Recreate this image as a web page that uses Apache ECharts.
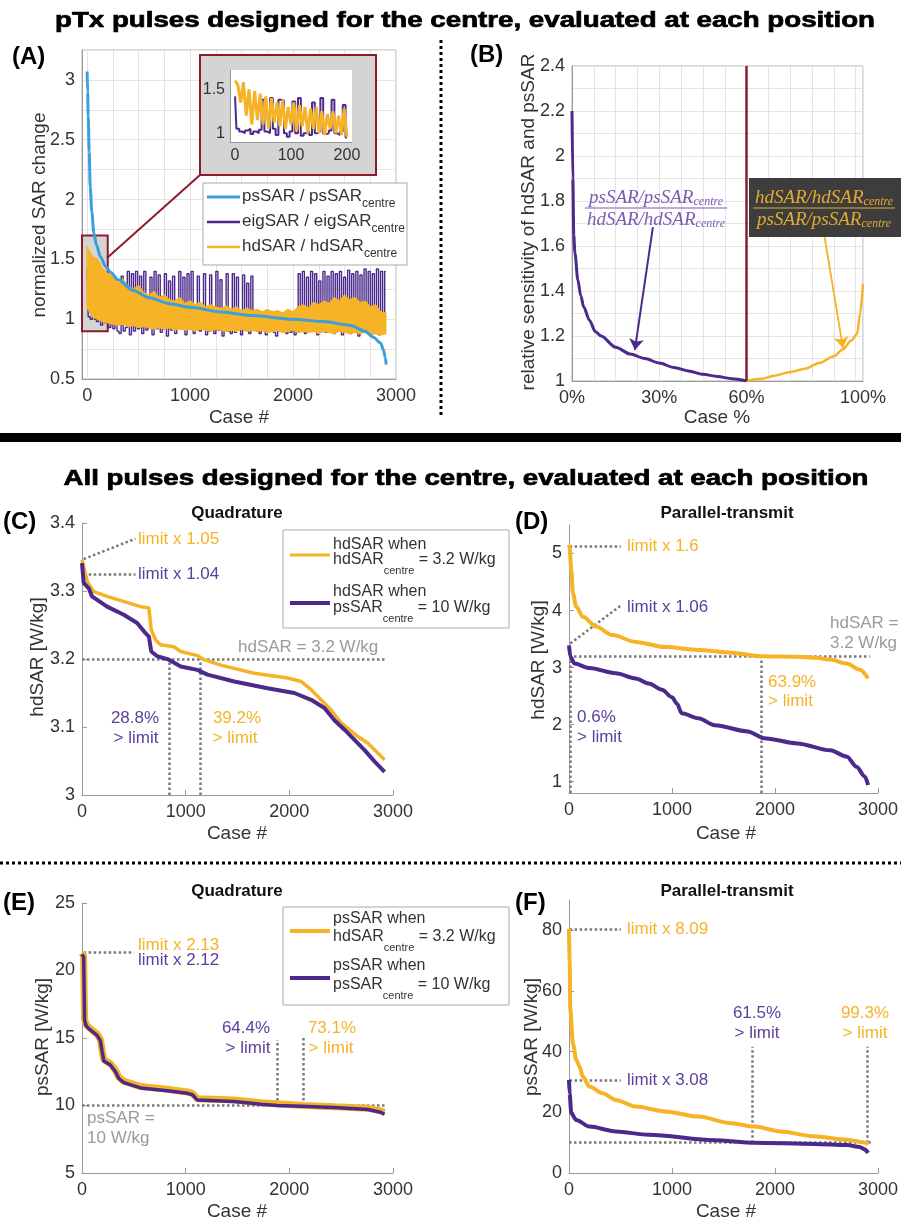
<!DOCTYPE html>
<html><head><meta charset="utf-8">
<script src="https://cdn.jsdelivr.net/npm/echarts@6/dist/echarts.min.js"></script>
<style>html,body{margin:0;padding:0;background:#fff}#c{width:901px;height:1223px}</style>
</head><body><div id="c"></div>
<script>
// ---------------- DATA ----------------
// Panel A: normalized SAR change vs case #
const aPsCase = [0,5,10,20,30,45,65,90,130,180,230,300,450,600,800,1000,1300,1600,2000,2300,2550,2700,2780,2850,2880,2895,2905];
const aPsSAR  = [3.07,2.9,2.7,2.4,2.1,1.9,1.72,1.62,1.52,1.44,1.39,1.33,1.24,1.18,1.13,1.1,1.06,1.03,1.0,0.98,0.95,0.9,0.85,0.8,0.74,0.68,0.62];
const aEigCase0 = 0, aEigStep = 20;
const aEigSAR = [
1.42,1.02,1.0,1.38,1.0,0.98,
1.4,0.95,1.38,0.97,1.32,0.93,1.35,0.92,1.3,0.9,
0.88,1.36,0.9,0.93,1.4,0.87,1.38,0.9,1.4,0.92,
1.36,0.88,1.4,0.91,0.93,1.35,0.87,1.4,0.92,1.37,
0.89,0.92,1.38,0.86,1.32,0.91,1.36,0.88,0.93,1.4,
0.92,1.35,0.87,1.38,0.92,1.4,0.88,0.93,1.36,0.9,
0.92,1.38,0.87,0.9,1.37,0.92,0.88,1.4,0.91,1.33,
0.86,0.92,1.38,0.9,0.88,1.38,0.89,1.35,0.92,0.87,
1.37,0.91,1.3,0.88,1.36,0.91,0.9,
0.92,0.88,0.93,0.91,0.87,0.92,0.9,0.93,0.89,0.86,0.92,0.9,0.91,0.93,0.88,0.92,0.89,0.91,0.87,0.92,
1.38,0.9,1.4,0.88,1.35,0.9,1.4,0.92,1.38,0.87,
1.32,0.91,1.4,0.89,1.36,0.92,1.4,0.88,1.38,0.91,
1.4,0.87,1.35,0.92,1.41,0.88,1.38,0.91,1.4,0.86,
1.37,0.9,1.42,0.91,1.4,0.88,1.38,0.92,1.42,0.87,
1.4,0.91,1.4];
const aBandCase = [0,50,100,150,200,250,300,350,400,450,500,550,600,650,700,750,800,850,900,950,1000,1050,1100,1150,1200,1250,1300,1350,1400,1450,1500,1550,1600,1650,1700,1750,1800,1850,1900,1950,2000,2050,2100,2150,2200,2250,2300,2350,2400,2450,2500,2550,2600,2650,2700,2750,2800,2850,2900];
const aHdHi = [1.6,1.52,1.5,1.42,1.38,1.36,1.3,1.33,1.27,1.25,1.28,1.22,1.2,1.23,1.18,1.2,1.16,1.15,1.18,1.13,1.15,1.12,1.14,1.1,1.12,1.1,1.09,1.11,1.08,1.1,1.07,1.09,1.07,1.08,1.06,1.08,1.06,1.07,1.05,1.08,1.06,1.1,1.12,1.09,1.14,1.12,1.15,1.13,1.18,1.15,1.2,1.16,1.18,1.14,1.15,1.1,1.12,1.06,1.05];
const aHdLo = [1.1,1.02,1.0,0.98,0.97,0.96,0.95,0.96,0.94,0.95,0.93,0.94,0.93,0.92,0.93,0.92,0.93,0.91,0.92,0.91,0.92,0.9,0.92,0.91,0.9,0.92,0.91,0.9,0.91,0.9,0.92,0.9,0.91,0.9,0.91,0.89,0.9,0.91,0.89,0.9,0.91,0.89,0.9,0.89,0.9,0.88,0.9,0.89,0.88,0.9,0.89,0.88,0.89,0.88,0.89,0.87,0.88,0.87,0.88];
// Panel A inset (cases 0..200, step 5)
const aInsetStep = 5;
const aInsetEig = [1.42,1.05,1.02,1.0,1.03,1.05,0.99,1.02,1.0,1.04,1.38,1.02,1.0,1.4,1.05,0.98,1.38,1.37,1.0,0.96,1.02,1.36,1.0,1.4,0.97,1.0,1.02,0.98,1.35,1.0,1.02,1.4,0.99,1.0,1.03,1.38,1.0,0.98,1.02,1.32,0.95];
const aInsetHd  = [1.6,1.55,1.35,1.58,1.2,1.5,1.1,1.48,1.15,1.45,1.1,1.42,1.05,1.4,1.12,1.35,1.08,1.38,1.05,1.3,1.1,1.35,1.02,1.32,1.08,1.3,1.0,1.28,1.05,1.3,1.0,1.25,0.98,1.22,1.05,1.25,1.0,1.2,0.98,1.28,0.96];
// Panel B: relative sensitivity vs case %
const bPctLeft  = [0,0.3,0.6,1,2,3,4,6,8,10,15,20,25,30,35,40,45,50,55,60];
const bPsOverHd = [2.2,1.9,1.65,1.57,1.45,1.38,1.33,1.27,1.22,1.2,1.15,1.12,1.1,1.08,1.06,1.045,1.03,1.02,1.01,1.0];
const bPctRight = [60,65,70,75,80,85,90,93,96,98,99,100];
const bHdOverPs = [1.0,1.01,1.025,1.04,1.055,1.08,1.11,1.14,1.18,1.21,1.3,1.43];
// Panel C: Quadrature hdSAR
const cHdWhenHd = [[0,3.346],[16,3.346],[55,3.312],[113,3.299],[242,3.292],[565,3.277],[645,3.275],[668,3.243],[710,3.228],[758,3.221],[887,3.218],[952,3.211],[1113,3.205],[1177,3.199],[1339,3.191],[1661,3.179],[1984,3.172],[2113,3.167],[2210,3.155],[2306,3.14],[2403,3.125],[2500,3.106],[2661,3.086],[2758,3.076],[2919,3.052]];
const cHdWhenPs = [[0,3.341],[10,3.341],[16,3.312],[65,3.304],[97,3.292],[242,3.277],[403,3.265],[532,3.253],[613,3.238],[645,3.233],[668,3.211],[726,3.204],[839,3.199],[952,3.189],[1113,3.184],[1210,3.177],[1468,3.167],[1790,3.157],[2048,3.15],[2210,3.14],[2339,3.128],[2435,3.11],[2532,3.096],[2629,3.081],[2726,3.066],[2823,3.049],[2919,3.034]];
// Panel D: Parallel-transmit hdSAR
const dHdWhenHd = [[0,5.15],[6,5.1],[22,4.71],[38,4.3],[70,4.07],[134,3.89],[262,3.72],[423,3.57],[647,3.45],[935,3.36],[1255,3.31],[1575,3.26],[1866,3.2],[2215,3.19],[2400,3.17],[2536,3.14],[2696,3.07],[2824,2.96],[2904,2.81]];
const dHdWhenPs = [[0,3.39],[13,3.19],[54,3.07],[198,2.99],[455,2.9],[647,2.81],[775,2.72],[903,2.61],[1000,2.48],[1047,2.37],[1095,2.2],[1255,2.11],[1415,1.99],[1735,1.88],[1895,1.76],[2215,1.67],[2536,1.55],[2696,1.44],[2792,1.26],[2872,1.09],[2904,0.94]];
// Panel E: Quadrature psSAR
const ePsWhenHd = [[0,21.3],[16,21.1],[25,16.4],[40,16.0],[65,15.8],[145,15.3],[177,14.9],[194,14.1],[210,13.4],[274,13.1],[323,12.6],[355,12.1],[403,11.8],[565,11.4],[823,11.2],[1016,11.0],[1065,10.9],[1113,10.5],[1468,10.4],[1726,10.2],[2139,10.0],[2435,9.9],[2758,9.8],[2880,9.6],[2919,9.5]];
const ePsWhenPs = [[0,21.2],[16,21.0],[25,16.3],[40,15.9],[65,15.7],[145,15.2],[177,14.8],[194,14.0],[210,13.3],[274,13.0],[323,12.5],[355,12.0],[403,11.7],[565,11.3],[823,11.1],[1016,10.9],[1065,10.8],[1113,10.4],[1468,10.3],[1726,10.1],[1887,10.0],[2113,9.95],[2435,9.85],[2758,9.7],[2880,9.5],[2919,9.35]];
// Panel F: Parallel-transmit psSAR
const fPsWhenHd = [[0,80.5],[6,70],[13,53.7],[38,42.7],[70,37.3],[102,35.1],[134,31.8],[198,28.5],[326,26.3],[455,24.1],[647,21.9],[935,20.3],[1255,18.6],[1575,16.4],[1800,15.3],[2056,13.7],[2376,12.1],[2696,11.0],[2888,10.0],[2904,9.3]];
const fPsWhenPs = [[0,30.7],[6,26.3],[22,19.7],[70,17.5],[198,15.3],[455,13.7],[775,12.6],[1415,10.8],[1796,10.0],[2376,9.6],[2696,9.2],[2824,8.6],[2870,7.8],[2904,6.6]];
// Tick labels / grid positions
const aTickX = [0,1000,2000,3000];
const aGridX = [0,250,500,750,1000,1250,1500,1750,2000,2250,2500,2750,3000];
const aTickY = [0.5,1,1.5,2,2.5,3];
const aGridY = [0.5,0.75,1,1.25,1.5,1.75,2,2.25,2.5,2.75,3,3.25];
const insetTickX = [0,100,200];
const insetTickY = [1,1.5];
const bTickX = [0,30,60,100];
const bGridX = [0,7.5,15,22.5,30,37.5,45,52.5,60,67.5,75,82.5,90,97.5,100];
const bTickY = [1,1.2,1.4,1.6,1.8,2,2.2,2.4];
const bGridY = [1,1.1,1.2,1.3,1.4,1.5,1.6,1.7,1.8,1.9,2,2.1,2.2,2.3,2.4];
const dTickY = [1,2,3,4,5];
const fTickY = [0,20,40,60,80];

// ---------------- STYLE ----------------
const FF = "Liberation Sans";
const F = "'Liberation Sans', Arial, sans-serif";
const SERIFF = "Liberation Serif";
const YEL = '#F5B325', PUR = '#4B2A8C', PURT = '#5E409E', BLU = '#3A9FDD', RED = '#8C1C2C';
const GRY = '#7a7a7a', GTXT = '#9a9a9a', TXT = '#333333';
const zip = (a, b) => a.map((x, i) => [x, b[i]]);
const plain = v => String(v);

const chart = echarts.init(document.getElementById('c'), null, {renderer: 'canvas', width: 901, height: 1223});

const tickLbl = {color: TXT, fontSize: 18, fontFamily: F, formatter: plain};
const grids = [
  {left: 82, top: 50, width: 314, height: 329, show: true, borderColor: '#b0b0b0', borderWidth: 1},
  {left: 230, top: 70, width: 122, height: 72, show: true, backgroundColor: '#fff', borderWidth: 0, z: 60},
  {left: 572, top: 66, width: 291, height: 315, show: true, borderColor: '#b0b0b0', borderWidth: 1},
  {left: 82, top: 523, width: 311, height: 272},
  {left: 569, top: 525, width: 313, height: 268},
  {left: 82, top: 903, width: 311, height: 270},
  {left: 569, top: 900, width: 313, height: 273}
];
const lineAx = {show: true, onZero: false, lineStyle: {color: '#9a9a9a', width: 1}};
const inTick = {show: true, inside: true, length: 5, lineStyle: {color: '#9a9a9a'}};
const caseX = gi => ({gridIndex: gi, type: 'value', min: 0, max: 3000, interval: 1000, axisLine: lineAx, axisTick: inTick, axisLabel: Object.assign({margin: 8}, tickLbl), splitLine: {show: false}});
const xAxes = [
  {gridIndex: 0, type: 'value', min: -50, max: 3000, axisLine: lineAx, axisTick: {show: false, customValues: aGridX}, axisLabel: Object.assign({}, tickLbl, {customValues: aTickX, margin: 8}), splitLine: {show: true, lineStyle: {color: '#e4e4e4'}}},
  {gridIndex: 1, type: 'value', min: -9, max: 209, z: 61, axisLine: lineAx, axisTick: {show: false}, axisLabel: {customValues: insetTickX, color: TXT, fontSize: 16, fontFamily: F, margin: 6}, splitLine: {show: false}},
  {gridIndex: 2, type: 'value', min: 0, max: 100, axisLine: lineAx, axisTick: {show: false, customValues: bGridX}, axisLabel: Object.assign({}, tickLbl, {customValues: bTickX, formatter: '{value}%', margin: 8}), splitLine: {show: true, lineStyle: {color: '#e4e4e4'}}},
  caseX(3), caseX(4), caseX(5), caseX(6)
];
const yAxes = [
  {gridIndex: 0, type: 'value', min: 0.5, max: 3.25, axisLine: lineAx, axisTick: {show: false, customValues: aGridY}, axisLabel: Object.assign({}, tickLbl, {customValues: aTickY, margin: 7}), splitLine: {show: true, lineStyle: {color: '#e4e4e4'}}},
  {gridIndex: 1, type: 'value', min: 0.9, max: 1.72, z: 61, axisLine: lineAx, axisTick: {show: false}, axisLabel: {customValues: insetTickY, color: TXT, fontSize: 16, fontFamily: F, margin: 5}, splitLine: {show: false}},
  {gridIndex: 2, type: 'value', min: 1, max: 2.4, axisLine: lineAx, axisTick: {show: false, customValues: bGridY}, axisLabel: Object.assign({}, tickLbl, {customValues: bTickY, margin: 7}), splitLine: {show: true, lineStyle: {color: '#e4e4e4'}}},
  {gridIndex: 3, type: 'value', min: 3, max: 3.4, interval: 0.1, axisLine: lineAx, axisTick: inTick, axisLabel: Object.assign({}, tickLbl, {margin: 7}), splitLine: {show: false}},
  {gridIndex: 4, type: 'value', min: 0.8, max: 5.5, axisLine: lineAx, axisTick: Object.assign({customValues: dTickY}, inTick), axisLabel: Object.assign({}, tickLbl, {customValues: dTickY, margin: 7}), splitLine: {show: false}},
  {gridIndex: 5, type: 'value', min: 5, max: 25, interval: 5, axisLine: lineAx, axisTick: inTick, axisLabel: Object.assign({}, tickLbl, {margin: 7}), splitLine: {show: false}},
  {gridIndex: 6, type: 'value', min: 0, max: 90, axisLine: lineAx, axisTick: Object.assign({customValues: fTickY}, inTick), axisLabel: Object.assign({}, tickLbl, {customValues: fTickY, margin: 7}), splitLine: {show: false}}
];

const dotted = {type: 'dotted', color: GRY, width: 2.5};
const mlDots = (data) => ({silent: true, symbol: 'none', z: 1, animation: false, label: {show: false}, lineStyle: dotted, emphasis: {disabled: true}, data: data.map(p => [{coord: p[0]}, {coord: p[1]}])});
const ln = (xi, data, color, width, z, extra) => Object.assign({type: 'line', xAxisIndex: xi, yAxisIndex: xi, data, showSymbol: false, symbol: 'none', z: z || 2, lineStyle: {color, width}, itemStyle: {color}, silent: true, animation: false}, extra || {});

// hdSAR band in panel A: polygon between low and high envelopes, through axis coords
const bandSeries = {
  type: 'custom', xAxisIndex: 0, yAxisIndex: 0, z: 4, silent: true, animation: false,
  data: aBandCase.map((x, i) => [x, aHdLo[i], aHdHi[i]]),
  encode: {x: 0, y: [1, 2]},
  renderItem: (params, api) => {
    if (params.dataIndex !== 0) return null;
    const pts = [];
    for (let i = 0; i < aBandCase.length; i++) pts.push(api.coord([aBandCase[i], aHdHi[i]]));
    for (let i = aBandCase.length - 1; i >= 0; i--) pts.push(api.coord([aBandCase[i], aHdLo[i]]));
    return {type: 'polygon', shape: {points: pts}, style: {fill: YEL, stroke: YEL, lineWidth: 1.5}};
  }
};

const series = [
  // A main
  ln(0, aEigSAR.map((v, i) => [aEigCase0 + i * aEigStep, v]), PUR, 1.4, 2, {step: 'middle',
    markArea: {silent: true, itemStyle: {color: '#d4d4d4', borderColor: RED, borderWidth: 2}, data: [[{coord: [-50, 1.7]}, {coord: [200, 0.9]}]]}
  }),
  bandSeries,
  ln(0, zip(aPsCase, aPsSAR), BLU, 3, 6, {smooth: 0.3, smoothMonotone: 'x'}),
  // A inset
  ln(1, aInsetEig.map((v, i) => [i * aInsetStep, v]), PUR, 2, 62, {step: 'middle'}),
  ln(1, aInsetHd.map((v, i) => [i * aInsetStep, v]), YEL, 3, 63),
  // B
  ln(2, zip(bPctLeft, bPsOverHd), PUR, 3, 3, {smooth: 0.3, smoothMonotone: 'x',
    markLine: {silent: true, animation: false, label: {show: false}, emphasis: {disabled: true}, symbol: ['none', 'arrow'], symbolSize: 11,
      data: [
        [{coord: [60, 1], symbol: 'none', lineStyle: {color: RED, width: 2.5, type: 'solid'}}, {coord: [60, 2.4], symbol: 'none'}],
        [{coord: [27.8, 1.684], symbol: 'none', lineStyle: {color: PUR, width: 2, type: 'solid'}}, {coord: [21.6, 1.138], symbol: 'arrow'}]
      ]}}),
  ln(2, zip(bPctRight, bHdOverPs), YEL, 2.5, 3, {smooth: 0.3, smoothMonotone: 'x',
    markLine: {silent: true, animation: false, label: {show: false}, emphasis: {disabled: true}, symbol: ['none', 'arrow'], symbolSize: 11,
      data: [[{coord: [86.3, 1.68], symbol: 'none', lineStyle: {color: YEL, width: 1.8, type: 'solid'}}, {coord: [93.1, 1.147], symbol: 'arrow'}]]}}),
  // C
  ln(3, cHdWhenHd, YEL, 3.5, 2, {markLine: mlDots([
    [[0, 3.2], [2935, 3.2]], [[840, 3.0], [840, 3.2]], [[1145, 3.0], [1145, 3.2]],
    [[16, 3.347], [516, 3.377]], [[65, 3.325], [516, 3.325]]])}),
  ln(3, cHdWhenPs, PUR, 4, 3),
  // D
  ln(4, dHdWhenHd, YEL, 4, 2, {smooth: 0.3, smoothMonotone: 'x', markLine: mlDots([
    [[0, 3.2], [2920, 3.2]], [[13, 0.8], [13, 3.2]], [[1863, 0.8], [1863, 3.2]],
    [[6, 5.13], [503, 5.13]], [[13, 3.42], [503, 4.09]]])}),
  ln(4, dHdWhenPs, PUR, 4, 3, {smooth: 0.3, smoothMonotone: 'x'}),
  // E
  ln(5, ePsWhenHd, YEL, 7, 2, {markLine: mlDots([
    [[0, 10], [2935, 10]], [[1887, 10], [1887, 14.85]], [[2139, 10], [2139, 15.1]],
    [[16, 21.38], [500, 21.38]]])}),
  ln(5, ePsWhenPs, PUR, 3.5, 3),
  // F
  ln(6, fPsWhenHd, YEL, 4, 2, {smooth: 0.3, smoothMonotone: 'x', markLine: mlDots([
    [[0, 10], [2930, 10]], [[1783, 10], [1783, 41.6]], [[2894, 10], [2894, 41.6]],
    [[6, 80.3], [503, 80.3]], [[6, 30.7], [503, 30.7]]])}),
  ln(6, fPsWhenPs, PUR, 4, 3, {smooth: 0.3, smoothMonotone: 'x'})
];

// ---------------- GRAPHICS ----------------
function T(x, y, text, o) {
  o = o || {};
  const st = {text, fill: o.fill || TXT, fontSize: o.fs || 17, fontFamily: o.ff || F, fontWeight: o.fw || 'normal', fontStyle: o.fst || 'normal', align: o.align || 'left', verticalAlign: 'middle'};
  if (o.stroke) { st.stroke = o.stroke; st.lineWidth = o.lw || 0.6; }
  return {type: 'text', x, y, z: o.z || 100, rotation: o.rot || 0, scaleX: o.sx || 1, silent: true, style: st};
}
const mctx = document.createElement('canvas').getContext('2d');
function measure(text, font) { mctx.font = font; return mctx.measureText(text).width; }
// text row with subscripts: parts = [[text, isSub], ...]
function subRow(x, y, parts, o) {
  const fam = o.fam || FF, fst = o.fst || 'normal';
  const fontOf = sub => `${fst} normal ${sub ? o.sfs : o.fs}px '${fam}'`;
  const widths = parts.map(p => measure(p[0], fontOf(p[1])));
  const total = widths.reduce((a, b) => a + b, 0);
  let cx = o.center ? x - total / 2 : x;
  const out = [];
  parts.forEach((p, i) => {
    out.push(T(cx, p[1] ? y + o.dy : y, p[0], {fs: p[1] ? o.sfs : o.fs, fill: o.fill, ff: `'${fam}'`, fst, z: o.z || 101}));
    cx += widths[i];
  });
  return out;
}
const title1 = 'pTx pulses designed for the centre, evaluated at each position';
const title2 = 'All pulses designed for the centre, evaluated at each position';
const tFont = "normal bold 22px 'Liberation Sans'";
const s1 = 820 / measure(title1, tFont), s2 = 805 / measure(title2, tFont);

const gfx = [
  T(465, 21, title1, {fw: 'bold', fs: 22, fill: '#000', align: 'center', sx: s1, stroke: '#000', lw: 0.7}),
  T(466, 479, title2, {fw: 'bold', fs: 22, fill: '#000', align: 'center', sx: s2, stroke: '#000', lw: 0.7}),
  {type: 'line', z: 100, silent: true, shape: {x1: 441, y1: 40, x2: 441, y2: 418}, style: {stroke: '#000', lineWidth: 3, lineDash: [3, 3]}},
  {type: 'rect', z: 100, silent: true, shape: {x: 0, y: 433, width: 901, height: 9}, style: {fill: '#000'}},
  {type: 'line', z: 100, silent: true, shape: {x1: 0, y1: 863, x2: 901, y2: 863}, style: {stroke: '#000', lineWidth: 3, lineDash: [3, 3]}},
  // panel letters
  T(12, 57, '(A)', {fw: 'bold', fs: 24, fill: '#000'}),
  T(470, 55, '(B)', {fw: 'bold', fs: 24, fill: '#000'}),
  T(3, 522, '(C)', {fw: 'bold', fs: 24, fill: '#000'}),
  T(515, 522, '(D)', {fw: 'bold', fs: 24, fill: '#000'}),
  T(3, 903, '(E)', {fw: 'bold', fs: 24, fill: '#000'}),
  T(515, 903, '(F)', {fw: 'bold', fs: 24, fill: '#000'}),
  // subplot titles
  T(237, 513, 'Quadrature', {fw: 'bold', fs: 17, fill: '#111', align: 'center'}),
  T(727, 513, 'Parallel-transmit', {fw: 'bold', fs: 17, fill: '#111', align: 'center'}),
  T(237, 891, 'Quadrature', {fw: 'bold', fs: 17, fill: '#111', align: 'center'}),
  T(727, 891, 'Parallel-transmit', {fw: 'bold', fs: 17, fill: '#111', align: 'center'}),
  // axis names
  T(40, 215, 'normalized SAR change', {fs: 19, align: 'center', rot: Math.PI / 2}),
  T(239, 418, 'Case #', {fs: 19, align: 'center'}),
  T(529, 222, 'relative sensitivity of hdSAR and psSAR', {fs: 19, align: 'center', rot: Math.PI / 2}),
  T(717, 418, 'Case %', {fs: 19, align: 'center'}),
  T(38, 657, 'hdSAR [W/kg]', {fs: 19, align: 'center', rot: Math.PI / 2}),
  T(237, 834, 'Case #', {fs: 19, align: 'center'}),
  T(539, 660, 'hdSAR [W/kg]', {fs: 19, align: 'center', rot: Math.PI / 2}),
  T(726, 834, 'Case #', {fs: 19, align: 'center'}),
  T(43, 1037, 'psSAR [W/kg]', {fs: 19, align: 'center', rot: Math.PI / 2}),
  T(237, 1212, 'Case #', {fs: 19, align: 'center'}),
  T(532, 1037, 'psSAR [W/kg]', {fs: 19, align: 'center', rot: Math.PI / 2}),
  T(726, 1212, 'Case #', {fs: 19, align: 'center'}),
  // A inset frame + connector + legend
  {type: 'rect', z: 55, silent: true, shape: {x: 200, y: 55, width: 176, height: 120}, style: {fill: '#d4d4d4', stroke: RED, lineWidth: 2}},
  {type: 'line', z: 55, silent: true, shape: {x1: 107, y1: 258, x2: 200, y2: 175}, style: {stroke: RED, lineWidth: 2}},
  {type: 'rect', z: 70, silent: true, shape: {x: 203, y: 183, width: 204, height: 82}, style: {fill: '#fff', stroke: '#aaa', lineWidth: 1}},
  {type: 'line', z: 71, silent: true, shape: {x1: 207, y1: 197, x2: 240, y2: 197}, style: {stroke: BLU, lineWidth: 3}},
  {type: 'line', z: 71, silent: true, shape: {x1: 207, y1: 222, x2: 240, y2: 222}, style: {stroke: PUR, lineWidth: 2.5}},
  {type: 'line', z: 71, silent: true, shape: {x1: 207, y1: 247, x2: 240, y2: 247}, style: {stroke: YEL, lineWidth: 2.5}},
  ...subRow(242, 196, [['psSAR / psSAR', 0], ['centre', 1]], {fs: 17, sfs: 12, dy: 8, fill: TXT, z: 71}),
  ...subRow(242, 221, [['eigSAR / eigSAR', 0], ['centre', 1]], {fs: 17, sfs: 12, dy: 8, fill: TXT, z: 71}),
  ...subRow(242, 246, [['hdSAR / hdSAR', 0], ['centre', 1]], {fs: 17, sfs: 12, dy: 8, fill: TXT, z: 71}),
  // B fractions
  ...subRow(656, 198, [['psSAR/psSAR', 0], ['centre', 1]], {fs: 19, sfs: 12, dy: 4, fill: '#7A5CB0', fam: SERIFF, fst: 'italic', center: true}),
  {type: 'line', z: 100, silent: true, shape: {x1: 585, y1: 208, x2: 727, y2: 208}, style: {stroke: '#7A5CB0', lineWidth: 1.2}},
  ...subRow(656, 220, [['hdSAR/hdSAR', 0], ['centre', 1]], {fs: 19, sfs: 12, dy: 4, fill: '#7A5CB0', fam: SERIFF, fst: 'italic', center: true}),
  {type: 'rect', z: 99, silent: true, shape: {x: 749, y: 178, width: 152, height: 59}, style: {fill: '#3d3d3d'}},
  ...subRow(824, 198, [['hdSAR/hdSAR', 0], ['centre', 1]], {fs: 19, sfs: 12, dy: 4, fill: '#E3AA2E', fam: SERIFF, fst: 'italic', center: true}),
  {type: 'line', z: 100, silent: true, shape: {x1: 753, y1: 208, x2: 895, y2: 208}, style: {stroke: '#E3AA2E', lineWidth: 1.2}},
  ...subRow(824, 220, [['psSAR/psSAR', 0], ['centre', 1]], {fs: 19, sfs: 12, dy: 4, fill: '#E3AA2E', fam: SERIFF, fst: 'italic', center: true}),
  // C annotations
  T(138, 539, 'limit x 1.05', {fill: YEL}),
  T(138, 574, 'limit x 1.04', {fill: PURT}),
  T(238, 647, 'hdSAR = 3.2 W/kg', {fill: GTXT}),
  T(135, 718, '28.8%', {fill: PURT, align: 'center'}),
  T(136, 738, '> limit', {fill: PURT, align: 'center'}),
  T(237, 718, '39.2%', {fill: YEL, align: 'center'}),
  T(235, 738, '> limit', {fill: YEL, align: 'center'}),
  // C legend
  {type: 'rect', z: 100, silent: true, shape: {x: 283, y: 530, width: 226, height: 98}, style: {fill: '#fff', stroke: '#aaa', lineWidth: 1}},
  {type: 'line', z: 101, silent: true, shape: {x1: 290, y1: 555, x2: 330, y2: 555}, style: {stroke: YEL, lineWidth: 3}},
  {type: 'line', z: 101, silent: true, shape: {x1: 290, y1: 603, x2: 330, y2: 603}, style: {stroke: PUR, lineWidth: 4}},
  T(333, 545, 'hdSAR when', {fs: 16, z: 101}),
  ...subRow(333, 560, [['hdSAR', 0], ['centre', 1], [' = 3.2 W/kg', 0]], {fs: 16, sfs: 11, dy: 11, fill: TXT}),
  T(333, 592, 'hdSAR when', {fs: 16, z: 101}),
  ...subRow(333, 608, [['psSAR', 0], ['centre', 1], [' = 10 W/kg', 0]], {fs: 16, sfs: 11, dy: 11, fill: TXT}),
  // D annotations
  T(627, 546, 'limit x 1.6', {fill: YEL}),
  T(627, 607, 'limit x 1.06', {fill: PURT}),
  T(830, 623, 'hdSAR =', {fill: GTXT}),
  T(830, 643, '3.2 W/kg', {fill: GTXT}),
  T(577, 717, '0.6%', {fill: PURT}),
  T(577, 737, '> limit', {fill: PURT}),
  T(768, 682, '63.9%', {fill: YEL}),
  T(768, 701, '> limit', {fill: YEL}),
  // E annotations
  T(138, 945, 'limit x 2.13', {fill: YEL}),
  T(138, 960, 'limit x 2.12', {fill: PURT}),
  T(87, 1118, 'psSAR =', {fill: GTXT}),
  T(87, 1138, '10 W/kg', {fill: GTXT}),
  T(246, 1028, '64.4%', {fill: PURT, align: 'center'}),
  T(248, 1048, '> limit', {fill: PURT, align: 'center'}),
  T(332, 1028, '73.1%', {fill: YEL, align: 'center'}),
  T(331, 1048, '> limit', {fill: YEL, align: 'center'}),
  // E legend
  {type: 'rect', z: 100, silent: true, shape: {x: 283, y: 907, width: 226, height: 98}, style: {fill: '#fff', stroke: '#aaa', lineWidth: 1}},
  {type: 'line', z: 101, silent: true, shape: {x1: 290, y1: 931, x2: 330, y2: 931}, style: {stroke: YEL, lineWidth: 4}},
  {type: 'line', z: 101, silent: true, shape: {x1: 290, y1: 978, x2: 330, y2: 978}, style: {stroke: PUR, lineWidth: 4}},
  T(333, 919, 'psSAR when', {fs: 16, z: 101}),
  ...subRow(333, 937, [['hdSAR', 0], ['centre', 1], [' = 3.2 W/kg', 0]], {fs: 16, sfs: 11, dy: 11, fill: TXT}),
  T(333, 966, 'psSAR when', {fs: 16, z: 101}),
  ...subRow(333, 985, [['psSAR', 0], ['centre', 1], [' = 10 W/kg', 0]], {fs: 16, sfs: 11, dy: 11, fill: TXT}),
  // F annotations
  T(627, 929, 'limit x 8.09', {fill: YEL}),
  T(627, 1080, 'limit x 3.08', {fill: PURT}),
  T(757, 1013, '61.5%', {fill: PURT, align: 'center'}),
  T(757, 1033, '> limit', {fill: PURT, align: 'center'}),
  T(865, 1013, '99.3%', {fill: YEL, align: 'center'}),
  T(865, 1033, '> limit', {fill: YEL, align: 'center'})
];

chart.setOption({
  animation: false,
  backgroundColor: '#fff',
  textStyle: {fontFamily: F},
  grid: grids,
  xAxis: xAxes,
  yAxis: yAxes,
  series: series,
  graphic: {elements: gfx}
});
</script></body></html>
